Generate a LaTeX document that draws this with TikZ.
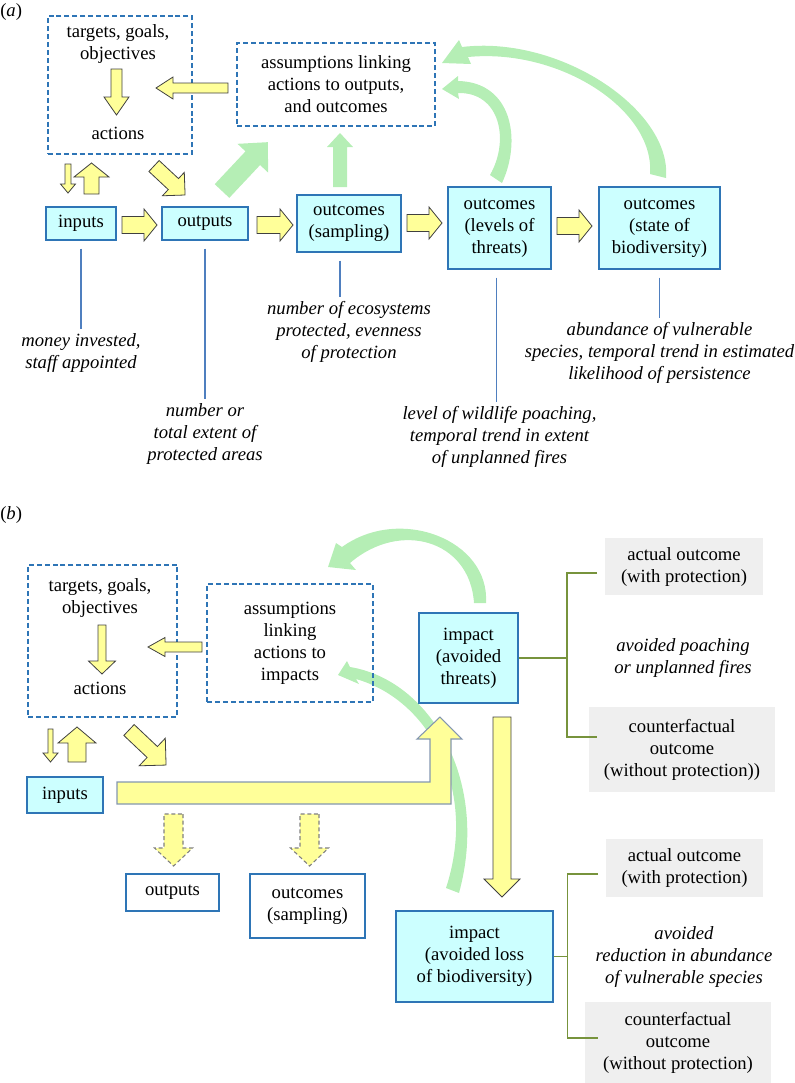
\documentclass[tikz,border=0pt]{standalone}
\usepackage{fontspec}
\setmainfont{Liberation Serif}
\definecolor{cfill}{HTML}{CCFFFF}
\definecolor{bblue}{HTML}{2E75B6}
\definecolor{yfill}{HTML}{FFFF99}
\definecolor{gfill}{HTML}{B5EEB5}
\definecolor{grayf}{HTML}{EFEFEF}
\definecolor{oliveg}{HTML}{77933C}
\definecolor{lblue}{HTML}{4F7FBF}
\definecolor{lborder}{HTML}{8497B0}
\newcommand\boxfont{\fontsize{14}{16.5}\selectfont}
\newcommand\labfont{\fontsize{14}{16.5}\selectfont\itshape}
% block arrow: [style]{x}{y}{angle}{length}{shaft}{head width}{head length}
\newcommand\barrow[8][]{%
 \begin{scope}[shift={(#2,#3)},rotate=#4]
 \path[#1] (0,{-(#6)/2}) -- ({#5-#8},{-(#6)/2}) -- ({#5-#8},{-(#7)/2}) -- (#5,0) -- ({#5-#8},{(#7)/2}) -- ({#5-#8},{(#6)/2}) -- (0,{(#6)/2}) -- cycle;
 \end{scope}}
\begin{document}
\begin{tikzpicture}[x=0.75pt,y=-0.75pt,
 sz/.style 2 args={minimum width=#1pt, minimum height=#2pt},
 dbox/.style={draw=bblue, dash pattern=on 3.75pt off 2.2pt, line width=1.1pt, inner sep=0pt, align=center, font=\boxfont},
 cbox/.style={draw=bblue, fill=cfill, line width=1.1pt, inner sep=0pt, align=center, font=\boxfont},
 wbox/.style={draw=bblue, fill=white, line width=1.1pt, inner sep=0pt, align=center, font=\boxfont},
 gbox/.style={fill=grayf, inner sep=0pt, align=center, font=\boxfont},
 txt/.style={inner sep=0pt, align=center, font=\boxfont},
 lab/.style={inner sep=0pt, align=center, font=\labfont},
 ya/.style={fill=yfill, draw=black!75, line width=0.6pt},
 yb/.style={fill=yfill, draw=lborder, line width=0.8pt},
 yd/.style={fill=yfill, draw=gray, line width=0.8pt, dash pattern=on 3pt off 2pt},
 ga/.style={fill=gfill},
 bl/.style={draw=lblue, line width=0.8pt, shorten <=6pt, shorten >=3.5pt},
 ol/.style={draw=oliveg, line width=1.1pt}]
\useasboundingbox (0,0) rectangle (795,1083);

%================ (a) =================
\node[txt, anchor=west] (la) at (0,12) {(\textit{a})};

% green arrows
\barrow[ga]{222}{191}{46.8}{67}{20}{42}{22}
\barrow[ga]{340}{187}{90}{54}{14}{26}{14}
\path[ga] (502,183) .. controls (522,140) and (512,82) .. (458,81)
 -- (458,76) -- (442,89) -- (459,99) -- (458,93)
 .. controls (500,92) and (510,140) .. (490,175) -- cycle;
\path[ga] (666,178) .. controls (672,110) and (560,35) .. (462,47)
 -- (459,40) -- (442,63) -- (471,64) -- (468,57)
 .. controls (560,48) and (655,110) .. (650,174) -- cycle;

% boxes
\node[dbox, sz={108}{103.5}] (tgoA) at (120,85) {};
\node[txt] (tgoAt) at (118,44) {targets, goals,\\objectives};
\node[txt] (actA) at (118,133) {actions};
\node[dbox, sz={148.5}{62.25}] (asmA) at (336,84.5) {assumptions linking\\actions to outputs,\\and outcomes};
\node[cbox, sz={52.5}{24.75}] (inA) at (81,223.5) {inputs};
\node[cbox, sz={64.5}{24.75}] (outA) at (205,223.5) {outputs};
\node[cbox, sz={78}{42.75}] (sampA) at (349,223.5) {outcomes\\(sampling)};
\node[cbox, sz={77.25}{61.5}] (thrA) at (499.5,228) {outcomes\\(levels of\\threats)};
\node[cbox, sz={90.75}{61.5}] (bioA) at (659.5,228) {outcomes\\(state of\\biodiversity)};

% yellow arrows
\barrow[ya]{116.5}{69}{-90}{46}{11}{25}{18}
\barrow[ya]{228}{88}{180}{72}{10}{22}{17}
\barrow[ya]{68}{164}{-90}{29}{6}{15}{9}
\barrow[ya]{91.5}{194}{90}{31}{15}{35}{14}
\barrow[ya]{154}{166}{-43}{42.5}{15}{32}{16}
\barrow[ya]{122}{225}{0}{35}{17}{32}{13}
\barrow[ya]{257}{225}{0}{36}{17}{32}{13}
\barrow[ya]{407}{223}{0}{35}{17}{32}{13}
\barrow[ya]{557}{226}{0}{35}{17}{32}{13}

% labels
\node[lab] (labIn) at (81,353) {money invested,\\staff appointed};
\node[lab] (labOut) at (205,434) {number or\\total extent of\\protected areas};
\node[lab] (labSamp) at (349,332) {number of ecosystems\\protected, evenness\\of protection};
\node[lab] (labThr) at (499.5,437) {level of wildlife poaching,\\temporal trend in extent\\of unplanned fires};
\node[lab] (labBio) at (659.5,353) {abundance of vulnerable\\species, temporal trend in estimated\\likelihood of persistence};
\draw[bl] (inA.south) -- (labIn.north);
\draw[bl] (outA.south) -- (labOut.north);
\draw[bl] ([xshift=-6.75pt]sampA.south) -- ([xshift=-6.75pt]labSamp.north);
\draw[bl] ([xshift=-2.6pt]thrA.south) -- ([xshift=-2.6pt]labThr.north);
\draw[bl] (bioA.south) -- (labBio.north);

%================ (b) =================
\node[txt, anchor=west] (lb) at (0,515) {(\textit{b})};

% green arcs
\path[ga] (486,603) .. controls (490,540) and (400,505) .. (342,547)
 -- (336,543) -- (328,567) -- (356,570) -- (350,563)
 .. controls (400,520) and (470,540) .. (474,603) -- cycle;
\path[ga] (350,667) .. controls (430,680) and (490,780) .. (459,893)
 -- (446,888) .. controls (478,790) and (430,700) .. (356,679)
 -- (359,684) -- (338,675) -- (347,661) -- cycle;

% boxes
\node[dbox, sz={111.75}{114}] (tgoB) at (102.5,641) {};
\node[txt] (tgoBt) at (100,597.5) {targets, goals,\\objectives};
\node[txt] (actB) at (100,688) {actions};
\node[dbox, sz={124.5}{88.5}] (asmB) at (290,643) {assumptions\\linking\\actions to\\impacts};
\node[cbox, sz={57}{27}] (inB) at (65,795) {inputs};
\node[wbox, sz={69.75}{27.75}] (outB) at (172.5,892.5) {outputs};
\node[wbox, sz={86.25}{48}] (sampB) at (307.5,906) {outcomes\\(sampling)};
\node[cbox, sz={74.25}{67.5}] (thrB) at (468.5,658) {impact\\(avoided\\threats)};
\node[cbox, sz={117.75}{68.25}] (lossB) at (474.5,956.5) {impact\\(avoided loss\\of biodiversity)};

\node[gbox, sz={118.5}{42.75}] (act1) at (684,566.5) {actual outcome\\(with protection)};
\node[lab] (av1) at (683,658) {avoided poaching\\or unplanned fires};
\node[gbox, sz={139.5}{63.75}] (cf1) at (682,749.5) {counterfactual\\outcome\\(without protection))};
\node[gbox, sz={117.75}{43.5}] (act2) at (684.5,868) {actual outcome\\(with protection)};
\node[lab] (av2) at (684,957) {avoided\\reduction in abundance\\of vulnerable species};
\node[gbox, sz={139.5}{60.75}] (cf2) at (678,1042.5) {counterfactual\\outcome\\(without protection)};

% brackets
\coordinate (b1m) at (567,658);
\coordinate (b1t) at (597,573);
\coordinate (b1b) at (597,737);
\draw[ol] (thrB.east) -- (b1m);
\draw[ol] (b1t) -- (567,573) -- (567,737) -- (b1b);
\coordinate (b2m) at (567.5,956.5);
\coordinate (b2t) at (598,874);
\coordinate (b2b) at (598,1038);
\draw[ol] (lossB.east) -- (b2m);
\draw[ol] (b2t) -- (567.5,874) -- (567.5,1038) -- (b2b);

% yellow arrows
\barrow[ya]{102}{625}{-90}{49}{8}{27}{13}
\barrow[ya]{202}{647}{180}{54}{10}{19}{17}
\barrow[ya]{50.5}{729}{-90}{33}{5}{15}{9}
\barrow[ya]{77}{762}{90}{35}{18}{38}{16}
\barrow[ya]{129}{730}{-43.4}{51}{15}{38}{19}
\barrow[ya]{502}{717}{-90}{180}{18}{36}{18}
\barrow[yd]{173.5}{814}{-90}{52}{19}{38}{18}
\barrow[yd]{309.5}{814}{-90}{52}{19}{38}{18}
\path[yb] (117,782) -- (430,782) -- (430,739) -- (417,739) -- (440,717) -- (462,739) -- (451,739) -- (451,804) -- (117,804) -- cycle;
\end{tikzpicture}
\end{document}
